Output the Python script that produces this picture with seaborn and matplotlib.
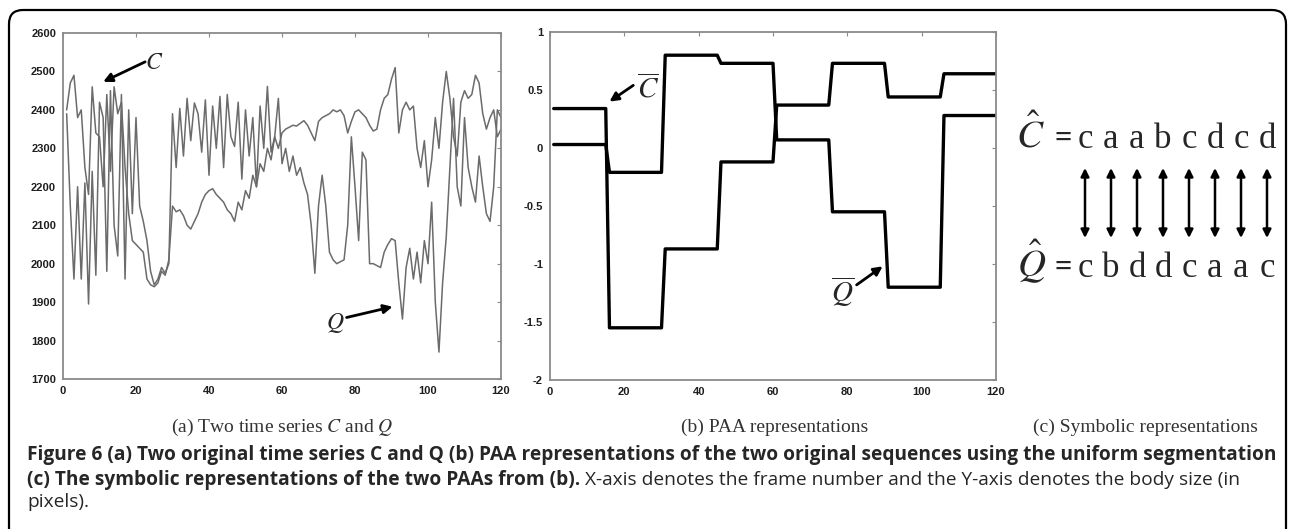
import numpy as np
import pandas as pd
import matplotlib
matplotlib.use("Agg")
import matplotlib.pyplot as plt
import seaborn as sns
from matplotlib.patches import FancyBboxPatch

# ---- data -------------------------------------------------------------
frames = np.arange(1, 121)

series_c = [
    2400, 2470, 2490, 2380, 2400, 2250, 2180, 2460, 2340, 2330, 2200, 2440, 2240, 2460, 2390,
    2420, 2250, 2130, 2060, 2050, 2040, 2030, 1960, 1945, 1940, 1950, 1980, 1970, 2010, 2150,
    2135, 2140, 2125, 2100, 2090, 2110, 2130, 2160, 2180, 2190, 2195, 2180, 2170, 2160, 2140,
    2130, 2110, 2160, 2140, 2190, 2170, 2230, 2200, 2260, 2240, 2300, 2270, 2330, 2300, 2340,
    2350, 2355, 2360, 2358, 2365, 2372, 2360, 2340, 2320, 2370, 2380, 2385, 2390, 2400, 2395,
    2400, 2385, 2340, 2370, 2395, 2400, 2390, 2380, 2360, 2345, 2350, 2400, 2430, 2440, 2480,
    2510, 2340, 2400, 2420, 2400, 2410, 2300, 2250, 2320, 2200, 2270, 2380, 2300, 2420, 2500,
    2430, 2330, 2280, 2420, 2450, 2430, 2440, 2490, 2470, 2390, 2350, 2380, 2400, 2330, 2350,
]

series_q = [
    2390, 2150, 1960, 2200, 1960, 2210, 1895, 2240, 1970, 2420, 2380, 1980, 2450, 2100, 2020,
    2440, 1960, 2400, 2130, 2380, 2150, 2110, 2060, 1980, 1945, 1960, 1990, 1975, 2000, 2390,
    2250, 2404, 2280, 2430, 2320, 2418, 2390, 2290, 2426, 2230, 2410, 2300, 2435, 2250, 2440,
    2330, 2305, 2420, 2220, 2400, 2280, 2380, 2200, 2410, 2300, 2461, 2290, 2330, 2430, 2260,
    2300, 2240, 2280, 2230, 2250, 2210, 2180, 2100, 1975, 2150, 2230, 2150, 2030, 2010, 2000,
    2005, 2010, 2100, 2330, 2200, 2060, 2290, 2270, 2000, 2000, 1995, 1990, 2030, 2050, 2065,
    2060, 1950, 1856, 1990, 2040, 1960, 2030, 1950, 2060, 2000, 2160, 1900, 1770, 1950, 2070,
    2250, 2430, 2200, 2150, 2380, 2250, 2200, 2160, 2280, 2200, 2130, 2110, 2200, 2400, 2380,
]

paa_c = [0.34, -1.55, -0.87, -0.12, 0.37, 0.73, 0.44, 0.64]
paa_q = [0.03, -0.21, 0.80, 0.73, 0.07, -0.55, -1.20, 0.28]

symbols_c = list("caabcdcd")
symbols_q = list("cbddcaac")

frame_ticks = [0, 20, 40, 60, 80, 100, 120]
ts_ticks = [1700, 1800, 1900, 2000, 2100, 2200, 2300, 2400, 2500, 2600]
paa_ticks = [-2, -1.5, -1, -0.5, 0, 0.5, 1]

subtitles = ["(a) Two time series $C$ and $Q$",
             "(b) PAA representations",
             "(c) Symbolic representations"]

caption_1 = ("Figure 6 (a) Two original time series C and Q (b) PAA representations "
             "of the two original sequences using the uniform segmentation")
caption_2_bold = "(c) The symbolic representations of the two PAAs from (b)."
caption_2_reg = "X-axis denotes the frame number and the Y-axis denotes the body size (in"
caption_3 = "pixels)."

# ---- style ------------------------------------------------------------
sns.set_style("white")
plt.rcParams["font.family"] = ["Liberation Sans", "DejaVu Sans"]
plt.rcParams["mathtext.fontset"] = "stix"

W, H = 1290, 529
fig = plt.figure(figsize=(W / 100, H / 100), dpi=100)


def px_box(x0, y0, x1, y1):
    """Axes rectangle from pixel edges (top-left origin)."""
    return [x0 / W, 1 - y1 / H, (x1 - x0) / W, (y1 - y0) / H]


# rounded frame around the whole figure
frame_ax = fig.add_axes([0, 0, 1, 1])
frame_ax.set_xlim(0, W)
frame_ax.set_ylim(H, 0)
frame_ax.axis("off")
frame_ax.add_patch(FancyBboxPatch((9, 10), 1277, 700,
                                  boxstyle="round,pad=0,rounding_size=14",
                                  fc="white", ec="black", lw=1.6))

spine_col = "#8a8a8a"
tick_col = "#1e1e1e"


def matlab_axes(ax, xticks, yticks, ylim):
    ax.set_xlim(0, 120)
    ax.set_ylim(*ylim)
    ax.set_xticks(xticks)
    ax.set_yticks(yticks)
    ax.set_xticklabels([f"{v:g}" for v in xticks])
    ax.set_yticklabels([f"{v:g}" for v in yticks])
    for s in ax.spines.values():
        s.set_visible(True)
        s.set_color(spine_col)
        s.set_linewidth(1.3)
    ax.tick_params(direction="in", length=3, width=0.8, color=spine_col,
                   top=True, right=True, labelsize=8, labelcolor=tick_col, pad=5)
    for lab in ax.get_xticklabels() + ax.get_yticklabels():
        lab.set_fontweight("bold")
    ax.set_xlabel("")
    ax.set_ylabel("")
    ax.set_facecolor("white")


# ---- (a) raw time series ------------------------------------------------
ax_a = fig.add_axes(px_box(63, 33, 501, 379))
ts = pd.DataFrame({"frame": frames, "C": series_c, "Q": series_q})
for name in ["C", "Q"]:
    sns.lineplot(data=ts, x="frame", y=name, ax=ax_a, color="#6b6b6b",
                 linewidth=1.1, estimator=None, sort=False)
matlab_axes(ax_a, frame_ticks, ts_ticks, (1700, 2600))

ax_a.annotate("", xy=(11, 2473), xytext=(22.5, 2525),
              arrowprops=dict(arrowstyle="-|>", color="black", lw=2.0,
                              mutation_scale=13, shrinkA=0, shrinkB=0))
ax_a.text(25, 2522, "$C$", fontsize=17, ha="center", va="center")
ax_a.annotate("", xy=(90.3, 1888), xytext=(77.7, 1860),
              arrowprops=dict(arrowstyle="-|>", color="black", lw=2.0,
                              mutation_scale=13, shrinkA=0, shrinkB=0))
ax_a.text(74.5, 1846, "$Q$", fontsize=17, ha="center", va="center")

# ---- (b) PAA representations --------------------------------------------
ax_b = fig.add_axes(px_box(550, 32, 996, 380))
seg_len = len(frames) // len(paa_c)
paa = pd.DataFrame({"frame": frames,
                    "C": np.repeat(paa_c, seg_len),
                    "Q": np.repeat(paa_q, seg_len)})
for name in ["C", "Q"]:
    sns.lineplot(data=paa, x="frame", y=name, ax=ax_b, color="black",
                 linewidth=2.4, estimator=None, sort=False)
matlab_axes(ax_b, frame_ticks, paa_ticks, (-2, 1))

ax_b.annotate("", xy=(16, 0.40), xytext=(22.4, 0.54),
              arrowprops=dict(arrowstyle="-|>", color="black", lw=2.0,
                              mutation_scale=13, shrinkA=0, shrinkB=0))
ax_b.text(26.5, 0.51, r"$\overline{C}$", fontsize=21, ha="center", va="center")
ax_b.annotate("", xy=(89.5, -1.02), xytext=(82.5, -1.18),
              arrowprops=dict(arrowstyle="-|>", color="black", lw=2.0,
                              mutation_scale=13, shrinkA=0, shrinkB=0))
ax_b.text(78.8, -1.24, r"$\overline{Q}$", fontsize=21, ha="center", va="center")

# ---- (c) symbolic strings -------------------------------------------------
ax_c = fig.add_axes(px_box(1000, 100, 1290, 320))
ax_c.axis("off")
step = 26.0
x_first = 1085
ax_c.set_xlim((1000 - x_first) / step, (1290 - x_first) / step)
row_gap = 129.0
ax_c.set_ylim(-(320 - 277) / row_gap, 1 + (148 - 100) / row_gap)

serif = ["Liberation Serif", "DejaVu Serif"]
for i, (sc, sq) in enumerate(zip(symbols_c, symbols_q)):
    ax_c.text(i, 1, sc, fontsize=25, family=serif, ha="center", va="baseline")
    ax_c.text(i, 0, sq, fontsize=25, family=serif, ha="center", va="baseline")
    ax_c.annotate("", xy=(i, 1 - 20 / row_gap), xytext=(i, 1 - 90 / row_gap),
                  arrowprops=dict(arrowstyle="<|-|>", color="black", lw=1.8,
                                  mutation_scale=12, shrinkA=0, shrinkB=0))
ax_c.text(-2.1, 1, r"$\hat{C}$", fontsize=28, ha="center", va="baseline")
ax_c.text(-2.05, 0, r"$\hat{Q}$", fontsize=28, ha="center", va="baseline")
for row in (1, 0):
    ax_c.text(-0.85, row + 9 / row_gap, "=", fontsize=22, family=serif,
              ha="center", va="center", fontweight="bold")

# ---- panel titles ---------------------------------------------------------
for text, xc in zip(subtitles, [282, 775, 1145]):
    fig.text(xc / W, 1 - 427 / H, text, ha="center", va="center",
             fontsize=14, family=serif, color="#333333")

# ---- caption ----------------------------------------------------------------
cap_font = ["Open Sans", "DejaVu Sans"]
x0 = 27
right_edge = 1272
fig.canvas.draw()
renderer = fig.canvas.get_renderer()
t1 = fig.text(x0 / W, 1 - 455 / H, caption_1, fontsize=12, fontweight="bold",
              family=cap_font, va="center", ha="left")
cap_size = 12.0
for _ in range(3):
    w1 = t1.get_window_extent(renderer).width
    cap_size *= (right_edge - x0) / w1
    t1.set_fontsize(cap_size)

t2 = fig.text(x0 / W, 1 - 480 / H, caption_2_bold, fontsize=cap_size,
              fontweight="bold", family=cap_font, va="center", ha="left")
w2 = t2.get_window_extent(renderer).width
fig.text((x0 + w2 + 5) / W, 1 - 480 / H, caption_2_reg, fontsize=cap_size,
         family=cap_font, va="center", ha="left")
fig.text(x0 / W, 1 - 502 / H, caption_3, fontsize=cap_size,
         family=cap_font, va="center", ha="left")

fig.savefig("out.png", dpi=100)
